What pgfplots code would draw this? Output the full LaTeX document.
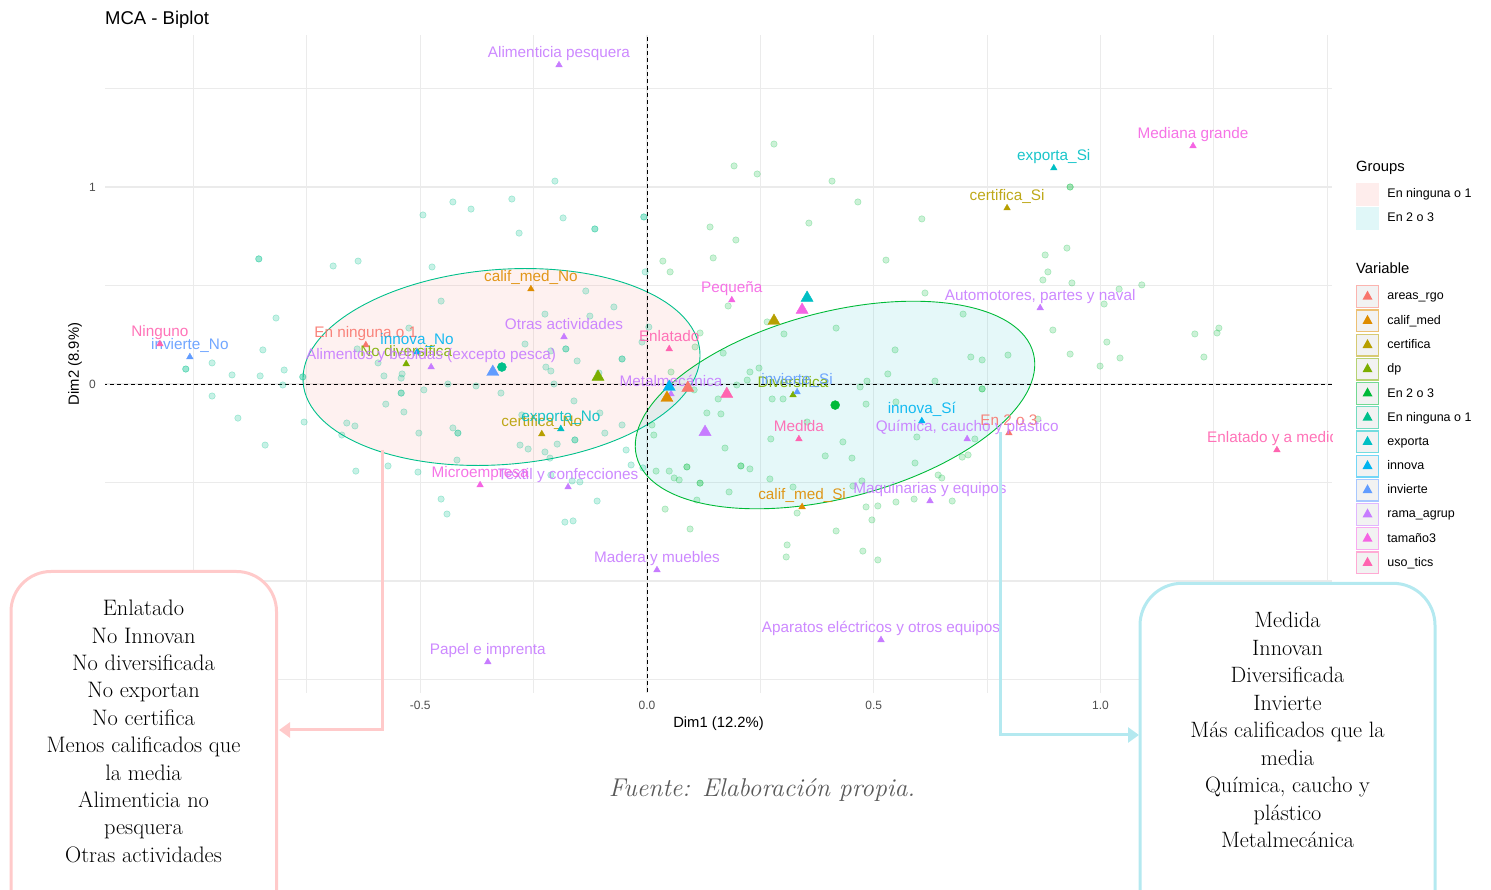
\documentclass[border=0pt]{standalone}
\usepackage{fontspec}
\usepackage{pgfplots}
\pgfplotsset{compat=1.18}
\usetikzlibrary{arrows.meta}
\newfontfamily\sans{Liberation Sans}
\definecolor{cAreas}{HTML}{F8766D}
\definecolor{cCalif}{HTML}{DE8C00}
\definecolor{cCert}{HTML}{B79F00}
\definecolor{cDp}{HTML}{7CAE00}
\definecolor{cGtwo}{HTML}{00BA38}
\definecolor{cGone}{HTML}{00C08B}
\definecolor{cExp}{HTML}{00BFC4}
\definecolor{cInn}{HTML}{00B4F0}
\definecolor{cInv}{HTML}{619CFF}
\definecolor{cRama}{HTML}{C77CFF}
\definecolor{cTam}{HTML}{F564E3}
\definecolor{cUso}{HTML}{FF64B0}
\definecolor{gridc}{HTML}{EBEBEB}
\definecolor{tickc}{HTML}{4D4D4D}
\definecolor{pinkbox}{HTML}{FFCACA}
\definecolor{cyanbox}{HTML}{B4E9F0}
\definecolor{captc}{HTML}{595959}
\definecolor{pinkfill}{HTML}{F8766D}
\definecolor{cyanfill}{HTML}{00BFC4}
\newcommand\lab{\sans\fontsize{15.3}{17}\selectfont}
\newcommand\varimg[1]{\addlegendimage{legend image code/.code={%
  \draw[#1!55, line width=1.3pt, fill=gray!10] (0.65pt,-10.85pt) rectangle (22.35pt,10.85pt);
  \fill[#1, draw=none] (11.5pt,6pt) -- (6.5pt,-3pt) -- (16.5pt,-3pt) -- cycle;}}}
\begin{document}
\begin{tikzpicture}[x=1pt,y=1pt]
\useasboundingbox (0,0) rectangle (1491,889);
\begin{axis}[
  at={(105pt,196pt)}, anchor=south west,
  width=1227pt, height=658pt, scale only axis,
  xmin=-1.1951, xmax=1.5105, ymin=-1.5685, ymax=1.7716,
  axis line style={draw=none},
  major tick length=0pt, minor tick length=0pt,
  xtick={-1,-0.5,0,0.5,1,1.5},
  xticklabels={-1.0,-0.5,0.0,0.5,1.0,1.5},
  minor xtick={-0.75,-0.25,0.25,0.75,1.25},
  ytick={-1,0,1}, yticklabels={-1,0,1},
  minor ytick={-1.5,-0.5,0.5,1.5},
  grid=both,
  major grid style={gridc, line width=1.1pt},
  minor grid style={gridc, line width=0.9pt},
  tick label style={font=\sans\fontsize{12}{14}\selectfont, text=tickc, inner sep=0pt},
  xticklabel style={anchor=north, yshift=-8pt},
  yticklabel style={anchor=east, xshift=-9pt},
  xlabel={Dim1 (12.2\%)}, ylabel={Dim2 (8.9\%)},
  xlabel style={at={(axis description cs:0.5,-0.0471)}, anchor=center, font=\sans\fontsize{14.8}{16}\selectfont},
  ylabel style={at={(axis description cs:-0.02445,0.5)}, anchor=center, font=\sans\fontsize{14.8}{16}\selectfont},
  every node near coord/.append style={font=\lab, anchor=base, yshift=7.5pt, inner sep=0pt, text opacity=0.9},
  legend style={at={(1.01956,0.7758)}, anchor=north west, draw=none, fill=none, inner sep=0pt, outer sep=0pt,
    row sep=1.2pt, column sep=8.4pt, font=\sans\fontsize{12.5}{14}\selectfont, nodes={inner sep=0pt}},
  legend cell align=left,
]
% ellipses
\draw[cGone, line width=0.9pt, fill=pinkfill, fill opacity=0.1, rotate around={4.5:(axis cs:-0.3208,0.0863)}]
  (axis cs:-0.3208,0.0863) ellipse [x radius=199pt, y radius=97.5pt];
\draw[cGtwo, line width=0.9pt, fill=cyanfill, fill opacity=0.1, rotate around={14.6:(axis cs:0.4146,-0.1066)}]
  (axis cs:0.4146,-0.1066) ellipse [x radius=205pt, y radius=93pt];
% reference lines
\addplot[forget plot, black, line width=0.9pt, dash pattern=on 4pt off 3pt] coordinates {(0,-1.6) (0,1.8)};
\addplot[forget plot, black, line width=0.9pt, dash pattern=on 4pt off 3pt] coordinates {(-1.2,0) (1.52,0)};
% individuals: En ninguna o 1
\addplot[forget plot, only marks, mark=*, mark size=3.2pt, mark options={fill=cGone, fill opacity=0.22, draw=cGone, draw opacity=0.3, line width=0.6pt}] table[row sep=\\] {
x y\\
-0.428 0.924\\ -0.388 0.888\\ -0.298 0.939\\ -0.494 0.858\\ -0.282 0.766\\ -0.856 0.635\\ -0.856 0.635\\
-0.692 0.599\\ -0.637 0.624\\ -0.474 0.594\\ -0.454 0.421\\ -0.818 0.335\\ -0.847 0.173\\ -0.959 0.107\\
-1.017 0.076\\ -1.017 0.076\\ -0.800 0.071\\ -0.593 0.107\\ -0.639 0.178\\ -0.540 0.051\\ -0.525 0.284\\
-0.135 0.472\\ -0.225 0.355\\ -0.126 0.345\\ -0.269 0.203\\ -0.179 0.178\\ -0.179 0.178\\ -0.212 0.168\\
-0.154 0.117\\ -0.223 0.086\\ -0.212 0.066\\ -0.915 0.046\\ -0.853 0.041\\ -0.759 0.036\\ -0.759 0.036\\
-0.803 -0.005\\ -0.580 0.041\\ -0.542 0.030\\ -0.439 0.000\\ -0.377 -0.010\\ -0.322 -0.046\\ -0.205 0.000\\
-0.542 -0.046\\ -0.542 -0.046\\ -0.492 -0.030\\ -0.959 -0.061\\ -0.576 -0.102\\ -0.536 -0.142\\ -0.161 -0.086\\
-0.902 -0.173\\ -0.756 -0.193\\ -0.662 -0.198\\ -0.644 -0.213\\ -0.673 -0.259\\ -0.503 -0.249\\ -0.428 -0.223\\
-0.417 -0.249\\ -0.417 -0.249\\ -0.280 -0.310\\ -0.262 -0.330\\ -0.225 -0.345\\ -0.198 -0.305\\ -0.159 -0.284\\
-0.159 -0.284\\ -0.214 -0.376\\ -0.276 -0.157\\ -0.842 -0.310\\ -0.642 -0.442\\ -0.571 -0.416\\ -0.505 -0.447\\
-0.419 -0.386\\ -0.165 -0.492\\ -0.148 -0.497\\ -0.454 -0.584\\ -0.441 -0.660\\ -0.203 1.030\\ -0.185 0.843\\
-0.115 0.787\\ -0.115 0.787\\ -0.007 0.848\\ -0.007 0.848\\ -0.004 0.569\\ -0.073 0.391\\ -0.055 0.127\\
-0.055 0.127\\ -0.106 0.056\\ 0.004 0.289\\ -0.011 0.213\\ -0.104 -0.147\\ -0.093 -0.249\\ -0.055 -0.208\\
-0.046 -0.335\\ -0.035 -0.411\\ -0.212 -0.462\\ -0.110 -0.594\\ -0.181 -0.701\\ -0.163 -0.695\\ -0.009 -0.426\\
};
% individuals: En 2 o 3
\addplot[forget plot, only marks, mark=*, mark size=3.2pt, mark options={fill=cGtwo, fill opacity=0.2, draw=cGtwo, draw opacity=0.28, line width=0.6pt}] table[row sep=\\] {
x y\\
0.035 0.624\\ 0.051 0.569\\ 0.139 0.797\\ 0.196 0.731\\ 0.146 0.640\\ 0.192 1.107\\ 0.243 1.066\\
0.280 1.218\\ 0.408 1.030\\ 0.357 0.817\\ 0.465 0.924\\ 0.606 0.838\\ 0.527 0.629\\ 0.613 0.462\\
0.117 0.259\\ 0.106 0.188\\ 0.053 0.061\\ 0.179 0.396\\ 0.265 0.315\\ 0.302 0.254\\ 0.168 0.157\\
0.417 0.284\\ 0.547 0.173\\ 0.227 0.061\\ 0.247 0.081\\ 0.531 0.051\\ 0.933 1.000\\ 0.933 1.000\\
0.926 0.690\\ 0.878 0.655\\ 0.884 0.569\\ 0.873 0.528\\ 0.937 0.513\\ 1.041 0.482\\ 1.091 0.503\\
1.008 0.406\\ 0.697 0.355\\ 0.895 0.274\\ 1.014 0.213\\ 1.208 0.254\\ 1.257 0.259\\ 1.261 0.284\\
0.714 0.137\\ 0.739 0.122\\ 0.796 0.147\\ 0.933 0.152\\ 1.043 0.132\\ 0.999 0.091\\ 1.228 0.137\\
0.739 -0.025\\ 0.739 -0.025\\ 0.862 -0.178\\ 0.723 -0.279\\ 0.695 -0.371\\ 0.708 -0.360\\ 0.642 -0.462\\
0.673 -0.594\\ 0.635 0.015\\ 0.015 -0.259\\ 0.132 -0.147\\ 0.163 -0.152\\ 0.172 -0.325\\ 0.273 -0.279\\
0.207 -0.416\\ 0.207 -0.416\\ 0.227 -0.431\\ 0.271 -0.482\\ 0.322 -0.523\\ 0.181 -0.548\\ 0.110 -0.589\\
0.040 -0.635\\ 0.095 -0.736\\ 0.331 -0.655\\ 0.276 -0.076\\ 0.157 -0.076\\ 0.432 -0.294\\ 0.393 -0.365\\
0.452 -0.376\\ 0.474 -0.492\\ 0.454 -0.518\\ 0.485 0.015\\ 0.595 -0.269\\ 0.549 -0.091\\ 0.483 -0.624\\
0.509 -0.619\\ 0.549 -0.599\\ 0.589 -0.584\\ 0.496 -0.690\\ 0.417 -0.746\\ 0.309 -0.817\\ 0.307 -0.878\\
0.476 -0.848\\ 0.509 -0.893\\ 0.020 -0.442\\ 0.049 -0.442\\ 0.060 -0.477\\ 0.071 -0.487\\ 0.088 -0.421\\
0.088 -0.421\\ 0.117 -0.503\\ 0.117 -0.503\\ 0.221 0.020\\ 0.198 -0.005\\ 0.104 -0.030\\ 0.300 -0.076\\
0.470 -0.015\\ 0.353 -0.193\\ 0.483 -0.102\\ 0.650 -0.477\\ 0.591 -0.401\\ 0.011 -0.208\\
};
% categories with labels
\addplot[forget plot, only marks, mark=triangle*, mark size=3.8pt, color=cAreas, point meta=explicit symbolic, nodes near coords]
  coordinates {(-0.620,0.198) [En ninguna o 1] (0.798,-0.249) [En 2 o 3]};
\addplot[forget plot, only marks, mark=triangle*, mark size=3.8pt, color=cCalif, point meta=explicit symbolic, nodes near coords]
  coordinates {(-0.256,0.482) [calif\_med\_No] (0.342,-0.624) [calif\_med\_Si]};
\addplot[forget plot, only marks, mark=triangle*, mark size=3.8pt, color=cCert, point meta=explicit symbolic, nodes near coords]
  coordinates {(0.794,0.893) [certifica\_Si] (-0.232,-0.254) [certifica\_No]};
\addplot[forget plot, only marks, mark=triangle*, mark size=3.8pt, color=cDp, point meta=explicit symbolic, nodes near coords]
  coordinates {(-0.531,0.102) [No diversifica] (0.322,-0.056) [Diversifica]};
\addplot[forget plot, only marks, mark=triangle*, mark size=3.8pt, color=cExp, point meta=explicit symbolic, nodes near coords]
  coordinates {(0.897,1.096) [exporta\_Si] (-0.190,-0.228) [exporta\_No]};
\addplot[forget plot, only marks, mark=triangle*, mark size=3.8pt, color=cInn, point meta=explicit symbolic, nodes near coords]
  coordinates {(-0.507,0.162) [innova\_No] (0.606,-0.188) [innova\_Sí]};
\addplot[forget plot, only marks, mark=triangle*, mark size=3.8pt, color=cInv, point meta=explicit symbolic, nodes near coords]
  coordinates {(-1.008,0.137) [invierte\_No] (0.331,-0.041) [invierte\_Si]};
\addplot[forget plot, only marks, mark=triangle*, mark size=3.8pt, color=cRama, point meta=explicit symbolic, nodes near coords]
  coordinates {(-0.194,1.619) [Alimenticia pesquera] (-0.183,0.239) [Otras actividades]
  (-0.476,0.086) [{Alimentos y bebidas (excepto pesca)}] (0.053,-0.051) [Metalmecánica]
  (0.867,0.386) [{Automotores, partes y naval}] (0.706,-0.279) [{Química, caucho y plástico}]
  (-0.174,-0.523) [Textil y confecciones] (0.624,-0.594) [Maquinarias y equipos]
  (0.022,-0.944) [Madera y muebles] (0.516,-1.299) [Aparatos eléctricos y otros equipos]
  (-0.351,-1.411) [Papel e imprenta]};
\addplot[forget plot, only marks, mark=triangle*, mark size=3.8pt, color=cTam, point meta=explicit symbolic, nodes near coords]
  coordinates {(1.204,1.208) [Mediana grande] (0.187,0.426) [Pequeña] (-0.368,-0.513) [Microempresa]};
\addplot[forget plot, only marks, mark=triangle*, mark size=3.8pt, color=cUso, point meta=explicit symbolic, nodes near coords]
  coordinates {(-1.074,0.203) [Ninguno] (0.049,0.178) [Enlatado] (0.335,-0.279) [Medida] (1.389,-0.335) [Enlatado y a medida]};
% big triangles
\addplot[forget plot, only marks, mark=triangle*, mark size=7pt, color=cInv] coordinates {(-0.340,0.061)};
\addplot[forget plot, only marks, mark=triangle*, mark size=7pt, color=cDp] coordinates {(-0.108,0.036)};
\addplot[forget plot, only marks, mark=triangle*, mark size=7pt, color=cInn] coordinates {(0.049,-0.015)};
\addplot[forget plot, only marks, mark=triangle*, mark size=7pt, color=cCalif] coordinates {(0.044,-0.071)};
\addplot[forget plot, only marks, mark=triangle*, mark size=7pt, color=cAreas] coordinates {(0.090,-0.020)};
\addplot[forget plot, only marks, mark=triangle*, mark size=7pt, color=cUso] coordinates {(0.176,-0.051)};
\addplot[forget plot, only marks, mark=triangle*, mark size=7pt, color=cRama] coordinates {(0.128,-0.244)};
\addplot[forget plot, only marks, mark=triangle*, mark size=7pt, color=cExp] coordinates {(0.353,0.437)};
\addplot[forget plot, only marks, mark=triangle*, mark size=7pt, color=cTam] coordinates {(0.342,0.376)};
\addplot[forget plot, only marks, mark=triangle*, mark size=7pt, color=cCert] coordinates {(0.280,0.320)};
% group centroids
\addplot[forget plot, only marks, mark=*, mark size=4.5pt, color=cGone] coordinates {(-0.320,0.086)};
\addplot[forget plot, only marks, mark=*, mark size=4.5pt, color=cGtwo] coordinates {(0.415,-0.107)};
% legend
\addlegendimage{legend image code/.code={\path[fill=pinkfill, fill opacity=0.13, draw=none] (0pt,-11.5pt) rectangle (23pt,11.5pt);}}
\addlegendentry{En ninguna o 1}
\addlegendimage{legend image code/.code={\path[fill=cyanfill, fill opacity=0.12, draw=none] (0pt,-11.5pt) rectangle (23pt,11.5pt);}}
\addlegendentry{En 2 o 3}
\addlegendimage{empty legend}
\addlegendentry{\rule{0pt}{51.5pt}}
\varimg{cAreas}\addlegendentry{areas\_rgo}
\varimg{cCalif}\addlegendentry{calif\_med}
\varimg{cCert}\addlegendentry{certifica}
\varimg{cDp}\addlegendentry{dp}
\varimg{cGtwo}\addlegendentry{En 2 o 3}
\varimg{cGone}\addlegendentry{En ninguna o 1}
\varimg{cExp}\addlegendentry{exporta}
\varimg{cInn}\addlegendentry{innova}
\varimg{cInv}\addlegendentry{invierte}
\varimg{cRama}\addlegendentry{rama\_agrup}
\varimg{cTam}\addlegendentry{tamaño3}
\varimg{cUso}\addlegendentry{uso\_tics}
\end{axis}
% panel edge: the label beyond the panel is cut as in the reference
\fill[white] (1332.6,432) rectangle (1353,472);
% titles
\node[anchor=base west, inner sep=0pt, font=\sans\fontsize{18.5}{20}\selectfont] at (105,864) {MCA - Biplot};
\node[anchor=base west, inner sep=0pt, font=\sans\fontsize{14.8}{16}\selectfont] at (1356,717.3) {Groups};
\node[anchor=base west, inner sep=0pt, font=\sans\fontsize{14.8}{16}\selectfont] at (1356,615) {Variable};
% connectors
\draw[pinkbox, line width=3pt, -{Triangle[length=11pt, width=15pt]}] (382,439) -- (382,159) -- (279,159);
\draw[cyanbox, line width=3pt, -{Triangle[length=11pt, width=15pt]}] (1000,457) -- (1000,154) -- (1139,154);
% boxes
\draw[pinkbox, line width=3pt, fill=white, rounded corners=40pt] (11,317.5) rectangle (276.5,-45);
\draw[cyanbox, line width=3pt, fill=white, rounded corners=42pt] (1140,305.7) rectangle (1435,-45);
\node[align=center, font=\fontsize{22.4}{27.4}\selectfont\addfontfeatures{FakeBold=0.6}] at (143.5,157.6)
  {Enlatado\\No Innovan\\No diversificada\\No exportan\\No certifica\\Menos calificados que\\la media\\Alimenticia no\\pesquera\\Otras actividades};
\node[align=center, font=\fontsize{22.2}{27.5}\selectfont\addfontfeatures{FakeBold=0.6}] at (1287.5,159.1)
  {Medida\\Innovan\\Diversificada\\Invierte\\Más calificados que la\\media\\Química, caucho y\\plástico\\Metalmecánica};
\node[font=\itshape\fontsize{25.7}{29}\selectfont\addfontfeatures{FakeBold=0.4}, text=captc] at (762,99) {Fuente: Elaboración propia.};
\end{tikzpicture}
\end{document}
